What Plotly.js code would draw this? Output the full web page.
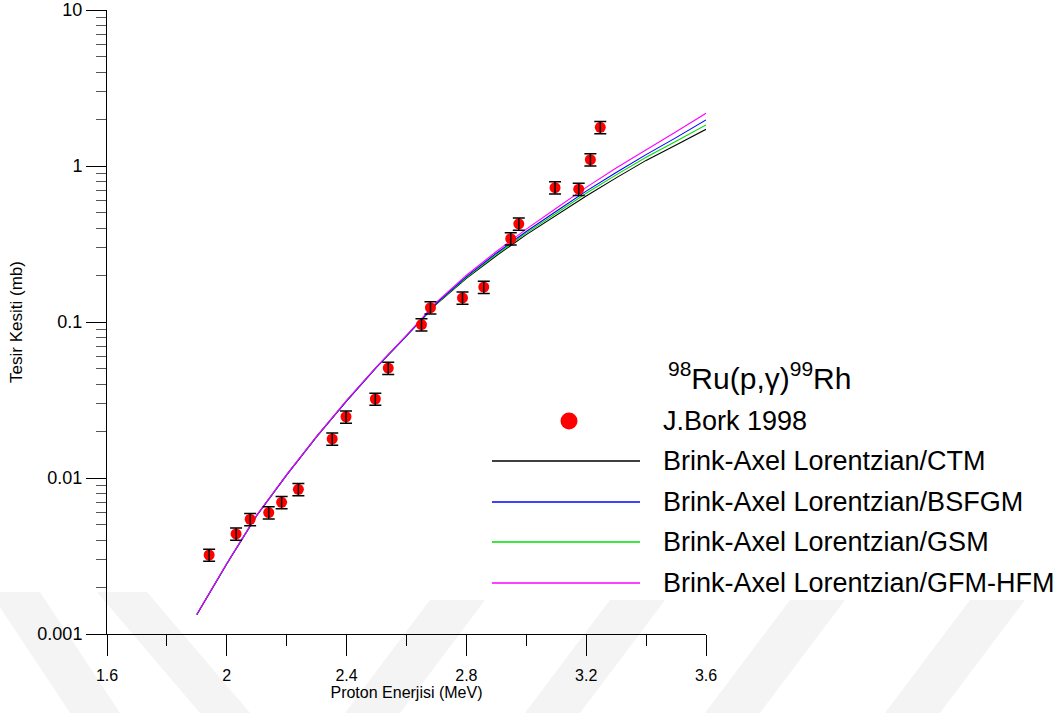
<!DOCTYPE html>
<html>
<head>
<meta charset="utf-8">
<script src="https://cdn.plot.ly/plotly-3.0.1.min.js"></script>
<style>
  html, body { margin: 0; padding: 0; background: #ffffff; }
  #chart { width: 1064px; height: 713px; }
</style>
</head>
<body>
<div id="chart"></div>
<script>
// Measured 98Ru(p,γ)99Rh cross sections (J. Bork 1998)
const expEnergy = [1.941, 2.031, 2.078, 2.140, 2.183, 2.239, 2.352, 2.398, 2.496, 2.539,
                   2.650, 2.680, 2.787, 2.858, 2.948, 2.975, 3.096, 3.175, 3.214, 3.247];
const expSigma  = [0.00321, 0.00438, 0.00544, 0.0060, 0.00698, 0.00846, 0.0178, 0.0247, 0.0321, 0.0507,
                   0.0962, 0.1236, 0.1426, 0.1675, 0.342, 0.426, 0.726, 0.710, 1.098, 1.77];
const expErrPercent = 9;

// Model calculations: Brink-Axel Lorentzian strength with four level-density models
const modelEnergy = [1.9, 2.0, 2.1, 2.2, 2.3, 2.4, 2.5, 2.6, 2.7, 2.8, 2.9, 3.0, 3.1, 3.2, 3.3, 3.4, 3.5, 3.6];
const sigmaCTM    = [0.001334, 0.002818, 0.005754, 0.01047, 0.01841, 0.03126, 0.05129, 0.08128, 0.1303,
                     0.1905, 0.2661, 0.3631, 0.4831, 0.6427, 0.8395, 1.0864, 1.3646, 1.7179];
const sigmaBSFGM  = [0.001334, 0.002818, 0.005754, 0.01047, 0.01841, 0.03126, 0.05129, 0.0815, 0.1321,
                     0.1954, 0.2761, 0.3802, 0.5129, 0.6902, 0.9078, 1.1830, 1.5205, 1.9724];
const sigmaGSM    = [0.001334, 0.002818, 0.005754, 0.01047, 0.01841, 0.03126, 0.05129, 0.08128, 0.1312,
                     0.1928, 0.2710, 0.3715, 0.4977, 0.6683, 0.8770, 1.1376, 1.4421, 1.8323];
const sigmaGFM    = [0.00134, 0.00283, 0.00578, 0.01052, 0.0185, 0.03142, 0.05156, 0.0820, 0.1340,
                     0.1995, 0.2831, 0.3936, 0.5358, 0.7295, 0.9705, 1.2764, 1.6596, 2.1777];

const seriesNames = ['J.Bork 1998', 'Brink-Axel Lorentzian/CTM', 'Brink-Axel Lorentzian/BSFGM',
                     'Brink-Axel Lorentzian/GSM', 'Brink-Axel Lorentzian/GFM-HFM'];
const lineColors = ['#000000', '#0000ff', '#00dd00', '#ff00ff'];

const xTickVals = [1.6, 2.0, 2.4, 2.8, 3.2, 3.6];
const xTickText = ['1.6', '2', '2.4', '2.8', '3.2', '3.6'];
const yTickVals = [0.001, 0.01, 0.1, 1, 10];
const yTickText = ['0.001', '0.01', '0.1', '1', '10'];

// minor ticks at 2..9 within each decade
const yMinor = [];
for (const d of [0.001, 0.01, 0.1, 1]) {
  for (let k = 2; k <= 9; k++) yMinor.push(+(k * d).toPrecision(3));
}

const FONT = 'Liberation Sans, Arial, sans-serif';
const W = 1064, H = 713;
const M = { l: 107, r: 358, t: 10, b: 79 };
const plotW = W - M.l - M.r, plotH = H - M.t - M.b;
const px2x = px => (px - M.l) / plotW;
const px2y = py => (H - M.b - py) / plotH;

const lineSets = [sigmaCTM, sigmaGSM, sigmaBSFGM, sigmaGFM];
const lineIdx  = [1, 3, 2, 4];   // draw order: CTM, GSM, BSFGM, GFM-HFM on top
const traces = [];
lineSets.forEach((ys, i) => {
  const n = lineIdx[i];
  traces.push({
    x: modelEnergy, y: ys, type: 'scatter', mode: 'lines', name: seriesNames[n],
    line: { color: lineColors[n - 1], width: 1.1 }, showlegend: false
  });
});
traces.push({
  x: expEnergy, y: expSigma, type: 'scatter', mode: 'markers', name: seriesNames[0],
  marker: { color: '#ff0000', size: 11 }, showlegend: false
});
// error bars drawn over the markers
traces.push({
  x: expEnergy, y: expSigma, type: 'scatter', mode: 'markers', name: seriesNames[0] + ' err',
  marker: { color: 'rgba(0,0,0,0)', size: 1 }, showlegend: false, hoverinfo: 'skip',
  error_y: { type: 'percent', value: expErrPercent, color: '#000000', thickness: 1.5, width: 6 }
});

const shapes = [];
const annotations = [];

// faint diagonal watermark bands along the bottom edge
const bandPath = (xTop, xBot, yTop, yBot, w) => {
  const p = [[xTop, yTop], [xTop + w, yTop], [xBot + w, yBot], [xBot, yBot]];
  return 'M' + p.map(q => px2x(q[0]) + ',' + px2y(q[1])).join(' L') + ' Z';
};
const bands = [
  [-10, 70, 592, 713, 50], [97, 200, 592, 713, 50],
  [430, 345, 600, 713, 55], [610, 525, 600, 713, 55], [790, 705, 600, 713, 55], [970, 885, 600, 713, 55]
];
bands.forEach(b => shapes.push({
  type: 'path', xref: 'paper', yref: 'paper', layer: 'below',
  path: bandPath(b[0], b[1], b[2], b[3], b[4]), fillcolor: '#f4f4f4', line: { width: 0 }
}));

// hand-placed key to the right of the plot
const legendRows = [
  { py: 461, color: lineColors[0], text: seriesNames[1] },
  { py: 502, color: lineColors[1], text: seriesNames[2] },
  { py: 542, color: lineColors[2], text: seriesNames[3] },
  { py: 583, color: lineColors[3], text: seriesNames[4] }
];
const legFont = { family: FONT, size: 27, color: '#000000' };
annotations.push({
  xref: 'paper', yref: 'paper', x: px2x(666), y: px2y(376), xanchor: 'left', yanchor: 'middle',
  text: '<sup>98</sup>Ru(p,γ)<sup>99</sup>Rh', showarrow: false,
  font: { family: FONT, size: 30, color: '#000000' }
});
shapes.push({
  type: 'circle', xref: 'paper', yref: 'paper', xsizemode: 'pixel', ysizemode: 'pixel',
  xanchor: px2x(569), yanchor: px2y(421), x0: -8.5, x1: 8.5, y0: -8.5, y1: 8.5,
  fillcolor: '#ff0000', line: { width: 0 }
});
annotations.push({
  xref: 'paper', yref: 'paper', x: px2x(661), y: px2y(421), xanchor: 'left', yanchor: 'middle',
  text: seriesNames[0], showarrow: false, font: legFont
});
legendRows.forEach(r => {
  shapes.push({
    type: 'line', xref: 'paper', yref: 'paper', x0: px2x(492), x1: px2x(640),
    y0: px2y(r.py), y1: px2y(r.py), line: { color: r.color, width: 1.3 }
  });
  annotations.push({
    xref: 'paper', yref: 'paper', x: px2x(661), y: px2y(r.py), xanchor: 'left', yanchor: 'middle',
    text: r.text, showarrow: false, font: legFont
  });
});

const layout = {
  width: W, height: H,
  margin: M,
  paper_bgcolor: '#ffffff', plot_bgcolor: 'rgba(0,0,0,0)',
  font: { family: FONT, color: '#000000' },
  showlegend: false,
  xaxis: {
    range: [1.6, 3.6], tickmode: 'array', tickvals: xTickVals, ticktext: xTickText,
    showline: true, linecolor: '#000000', linewidth: 1, mirror: false,
    ticks: 'outside', ticklen: 21, tickwidth: 1, tickcolor: '#000000',
    showgrid: false, zeroline: false, ticklabelstandoff: 6,
    tickfont: { family: FONT, size: 16, color: '#000000' },
    minor: { tickmode: 'linear', tick0: 1.6, dtick: 0.2, ticks: 'outside', ticklen: 11,
             tickwidth: 1, tickcolor: '#000000', showgrid: false },
    title: { text: 'Proton Enerjisi (MeV)', font: { family: FONT, size: 16, color: '#000000' }, standoff: 2 }
  },
  yaxis: {
    type: 'log', range: [-3, 1], tickmode: 'array', tickvals: yTickVals, ticktext: yTickText,
    showline: true, linecolor: '#000000', linewidth: 1, mirror: false,
    ticks: 'outside', ticklen: 20, tickwidth: 1, tickcolor: '#000000',
    showgrid: false, zeroline: false,
    tickfont: { family: FONT, size: 18, color: '#000000' },
    minor: { tickmode: 'array', tickvals: yMinor, ticks: 'outside', ticklen: 10,
             tickwidth: 1, tickcolor: '#555555', showgrid: false },
    title: { text: 'Tesir Kesiti (mb)', font: { family: FONT, size: 17, color: '#000000' }, standoff: 10 }
  },
  shapes: shapes,
  annotations: annotations
};

Plotly.newPlot('chart', traces, layout, { staticPlot: true, displayModeBar: false });
</script>
</body>
</html>
